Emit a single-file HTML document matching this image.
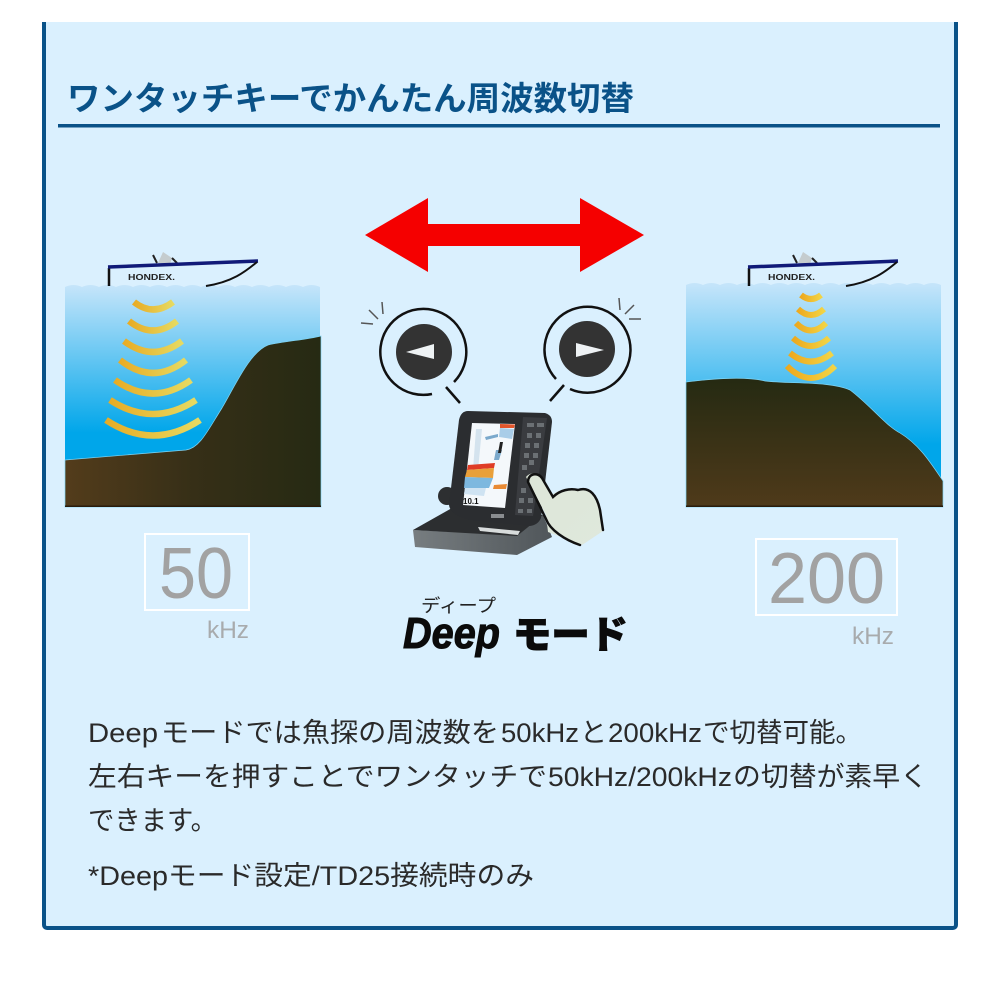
<!DOCTYPE html>
<html lang="ja"><head><meta charset="utf-8"><style>
html,body{margin:0;padding:0;background:#fff;width:1000px;height:1000px;overflow:hidden}
svg{display:block}
text{font-family:"Liberation Sans","Noto Sans CJK JP",sans-serif}
</style></head><body>
<svg xmlns="http://www.w3.org/2000/svg" width="1000" height="1000" viewBox="0 0 1000 1000">
<defs>
<linearGradient id="w" x1="0" y1="0" x2="0" y2="1"><stop offset="0" stop-color="#c6e5fa"/><stop offset=".8" stop-color="#00a6ea"/><stop offset="1" stop-color="#00a6ea"/></linearGradient>
<linearGradient id="g1" x1="0" y1="0" x2="1" y2="0"><stop offset="0" stop-color="#533c1b"/><stop offset=".5" stop-color="#362f17"/><stop offset="1" stop-color="#262a13"/></linearGradient>
<linearGradient id="g2" x1="0" y1="0" x2="0" y2="1"><stop offset="0" stop-color="#252a12"/><stop offset="1" stop-color="#4f3a1a"/></linearGradient>
<linearGradient id="a" x1="0" y1="0" x2="1" y2="0"><stop offset="0" stop-color="#e8ac25"/><stop offset="1" stop-color="#e6da62"/></linearGradient>
<linearGradient id="a2" x1="0" y1="0" x2="1" y2="0"><stop offset="0" stop-color="#eda91e"/><stop offset="1" stop-color="#f2d445"/></linearGradient>
<linearGradient id="base" x1="0" y1="0" x2="1" y2="0"><stop offset="0" stop-color="#777d80"/><stop offset="1" stop-color="#50565a"/></linearGradient>
<linearGradient id="hand" x1="0" y1="0" x2="1" y2="1"><stop offset="0" stop-color="#dde6d8"/><stop offset="1" stop-color="#dfe8dc"/></linearGradient>
</defs>
<path d="M44 22V925a3 3 0 0 0 3 3H953a3 3 0 0 0 3-3V22Z" fill="#daf0fe"/>
<path d="M44 22V925a3 3 0 0 0 3 3H953a3 3 0 0 0 3-3V22" fill="none" stroke="#0a5288" stroke-width="4"/>
<text x="67" y="110" font-size="33" font-weight="700" fill="#0a5288" textLength="567" lengthAdjust="spacingAndGlyphs">ワンタッチキーでかんたん周波数切替</text>
<rect x="58" y="124" width="882" height="3.500" fill="#0a5288"/>
<path d="M365 235L428 198V224H580V198L644 235L580 272V246H428V272Z" fill="#f50000"/>

<!-- Left scene -->
<path d="M65 287q8.500-4 17 0q8.500-4 17 0q8.500-4 17 0q8.500-4 17 0q8.500-4 17 0q8.500-4 17 0q8.500-4 17 0q8.500-4 17 0q8.500-4 17 0q8.500-4 17 0q8.500-4 17 0q8.500-4 17 0q8.500-4 17 0q8.500-4 17 0q8.500-4 17 0V470H65Z" fill="url(#w)" transform="translate(0 0)"/>
<path d="M65 460L186 450C200 448 208 430 222 408C235 386 250 352 268 345C285 341 305 340 321 336V507H65Z" fill="url(#g1)" stroke="#7fd4f4" stroke-width=".7"/>
<rect x="65" y="505.500" width="256" height="1.500" fill="#2a1c0c"/>
<g fill="none" stroke="url(#a)" stroke-width="6.500">
<path d="M134 302Q153 317 173 302"/><path d="M129 321Q153 340 177 321"/><path d="M124 341Q153 363 182 341"/><path d="M120 360Q153 386 186 360"/><path d="M115 380Q153 407 191 380"/><path d="M110 400Q153 428 196 400"/><path d="M106 420Q153 451 200 420"/>
</g>
<g id="bl">
<path d="M158 263L163 252L172 258L170 264Z" fill="#c5ccce"/>
<path d="M153 255L157 263M172 258L177 263" stroke="#222" stroke-width="2"/>
<path d="M109 286V268" stroke="#111" stroke-width="2.500"/>
<path d="M108 267L258 261" stroke="#101a78" stroke-width="3.500"/>
<path d="M257 262C245 272 232 282 206 286" fill="none" stroke="#111" stroke-width="2"/>
<text x="128" y="280" font-size="8" font-weight="700" fill="#222" textLength="47" lengthAdjust="spacingAndGlyphs">HONDEX.</text>
</g>

<!-- Right scene -->
<path d="M686 285q8.500-4 17 0q8.500-4 17 0q8.500-4 17 0q8.500-4 17 0q8.500-4 17 0q8.500-4 17 0q8.500-4 17 0q8.500-4 17 0q8.500-4 17 0q8.500-4 17 0q8.500-4 17 0q8.500-4 17 0q8.500-4 17 0q8.500-4 17 0q8.500-4 17 0V485H686Z" fill="url(#w)"/>
<path d="M686 382C710 379 745 376 765 381C790 384 830 381 850 390C870 405 885 425 900 433C920 445 932 465 943 481V507H686Z" fill="url(#g2)" stroke="#7fd4f4" stroke-width=".7"/>
<rect x="686" y="505.500" width="257" height="1.500" fill="#2a1c0c"/>
<g fill="none" stroke="url(#a2)" stroke-width="6">
<path d="M801 295Q811 303 821 295"/><path d="M798 309Q811 321 824 309"/><path d="M796 323Q811 338 826 323"/><path d="M793 338Q811 354 829 338"/><path d="M790 353Q811 370 832 353"/><path d="M787 366Q811 390 835 366"/>
</g>
<use href="#bl" x="640" y="0"/>

<!-- Key icons -->
<g fill="none" stroke="#111" stroke-width="2.500">
<path d="M454 382A43 43 0 1 0 432 394"/>
<path d="M446 387L460 403"/>
<path d="M570 389A43 43 0 1 0 556 379"/>
<path d="M564 385L550 401"/>
</g>
<g stroke="#555" stroke-width="1.500" fill="none"><path d="M361 323L373 324M369 310L378 319M382 302L383 314"/><path d="M619 298L620 310M634 305L625 314M629 319L641 319"/></g>
<circle cx="424" cy="352" r="28" fill="#333"/><path d="M406 352L434 344V359Z" fill="#eef2f4"/>
<circle cx="587" cy="349" r="28" fill="#333"/><path d="M576 343V357L604 350Z" fill="#eef2f4"/>

<!-- Device -->
<path d="M413 530L415 547L517 555L552 537L543 515L517 535Z" fill="url(#base)"/>
<path d="M413 530L452 508L543 515L517 536Z" fill="#2c2e30"/>
<path d="M478 527L520 531L518 535L480 531Z" fill="#d8dcdc"/>
<circle cx="447" cy="496" r="9" fill="#2d2f31"/>
<path d="M468 411L545 413Q552 415 552 422L541 518Q538 525 530 526L470 520Q450 515 449 505L459 420Q461 411 468 411Z" fill="#2b2d30"/>
<path d="M472 423L515 424L505 508L463 505Z" fill="#f4f8fb"/>
<path d="M500 424L515 424.500L514 428L500 428Z" fill="#e2552b"/>
<path d="M500 428L514 429L512 439L499 437Z" fill="#a9cde8"/>
<path d="M476 429L482 429L478 470L473 470Z" fill="#d4e3ee"/>
<path d="M485 437L498 434L498 437L486 440Z" fill="#7aa9cc"/>
<path d="M496 450L502 450L499 460L494 460Z" fill="#7aa9cc"/>
<path d="M468 465L495 463L494 468L467 470Z" fill="#df3c26"/>
<path d="M467 470L494 468L493 478L465 477Z" fill="#e9a03a"/>
<path d="M465 477L493 478L489 488L464 488Z" fill="#7db8df"/>
<path d="M465 488L486 488L484 496L464 494Z" fill="#cfe3f2"/>
<path d="M494 485L507 484L506 489L493 489Z" fill="#e98b35"/>
<path d="M500 442L503 442L501 453L498 453Z" fill="#222"/>
<text x="463" y="504" font-size="8" font-weight="700" fill="#111">10.1</text>
<path d="M523 417L547 418L533 516L515 515Z" fill="#3a3c40"/>
<g fill="#6b7074"><rect x="527" y="423" width="7" height="4"/><rect x="537" y="423" width="7" height="4"/><rect x="527" y="433" width="5" height="5"/><rect x="536" y="433" width="5" height="5"/><rect x="525" y="443" width="5" height="5"/><rect x="534" y="443" width="5" height="5"/><rect x="524" y="453" width="5" height="5"/><rect x="533" y="453" width="5" height="5"/><rect x="522" y="465" width="5" height="5"/><rect x="529" y="460" width="5" height="5"/><rect x="521" y="488" width="5" height="5"/><rect x="519" y="498" width="5" height="5"/><rect x="528" y="498" width="5" height="5"/><rect x="518" y="509" width="5" height="4"/><rect x="527" y="509" width="5" height="4"/></g>
<rect x="491" y="514" width="13" height="4" fill="#8a8d90"/>
<path d="M526 477C532 470 540 474 544 482L552 495C558 490 570 486 578 490C590 487 596 495 600 510L603 531L582 545L548 532L546 515Z" fill="url(#hand)"/>
<path d="M546 519L528 482C528 473 538 472 542 478L553 497C560 490 570 488 578 490C590 486 597 496 600 510L603 530M546 519C550 530 565 540 580 545" fill="none" stroke="#111" stroke-width="2.500" stroke-linecap="round"/>

<!-- Deep mode -->
<text x="421" y="612" font-size="18" fill="#222" textLength="75" lengthAdjust="spacingAndGlyphs">ディープ</text>
<text x="403" y="648" font-size="44" font-weight="700" font-style="italic" fill="#0b0b0b" textLength="97" lengthAdjust="spacingAndGlyphs" stroke="#0b0b0b" stroke-width="1">Deep</text>
<text x="513" y="648" font-size="38" font-weight="900" fill="#0b0b0b" textLength="115" lengthAdjust="spacingAndGlyphs" stroke="#0b0b0b" stroke-width="1">モード</text>

<!-- Frequency labels -->
<rect x="145" y="534" width="104" height="76" fill="none" stroke="#fff" stroke-width="2"/>
<text x="159" y="598" font-size="72" fill="#a2a2a2" textLength="74" lengthAdjust="spacingAndGlyphs">50</text>
<text x="207" y="638" font-size="24" fill="#a8abad" textLength="42" lengthAdjust="spacingAndGlyphs">kHz</text>
<rect x="756" y="539" width="141" height="76" fill="none" stroke="#fff" stroke-width="2"/>
<text x="768" y="603" font-size="72" fill="#a2a2a2" textLength="117" lengthAdjust="spacingAndGlyphs">200</text>
<text x="852" y="644" font-size="24" fill="#a8abad" textLength="42" lengthAdjust="spacingAndGlyphs">kHz</text>

<!-- Body -->
<g font-size="27" fill="#2a2a2a">
<text x="88" y="742" textLength="70" lengthAdjust="spacingAndGlyphs">Deep</text>
<text x="161" y="742" textLength="338" lengthAdjust="spacingAndGlyphs">モードでは魚探の周波数を</text>
<text x="501" y="742" textLength="78" lengthAdjust="spacingAndGlyphs">50kHz</text>
<text x="580" y="742" textLength="27" lengthAdjust="spacingAndGlyphs">と</text>
<text x="608" y="742" textLength="94" lengthAdjust="spacingAndGlyphs">200kHz</text>
<text x="703" y="742" textLength="159" lengthAdjust="spacingAndGlyphs">で切替可能。</text>
<text x="88" y="786" textLength="459" lengthAdjust="spacingAndGlyphs">左右キーを押すことでワンタッチで</text>
<text x="548" y="786" textLength="184" lengthAdjust="spacingAndGlyphs">50kHz/200kHz</text>
<text x="733" y="786" textLength="195" lengthAdjust="spacingAndGlyphs">の切替が素早く</text>
<text x="88" y="830" textLength="129" lengthAdjust="spacingAndGlyphs">できます。</text>
<text x="88" y="885" textLength="446" lengthAdjust="spacingAndGlyphs">*Deepモード設定/TD25接続時のみ</text>
</g>
</svg>
</body></html>
